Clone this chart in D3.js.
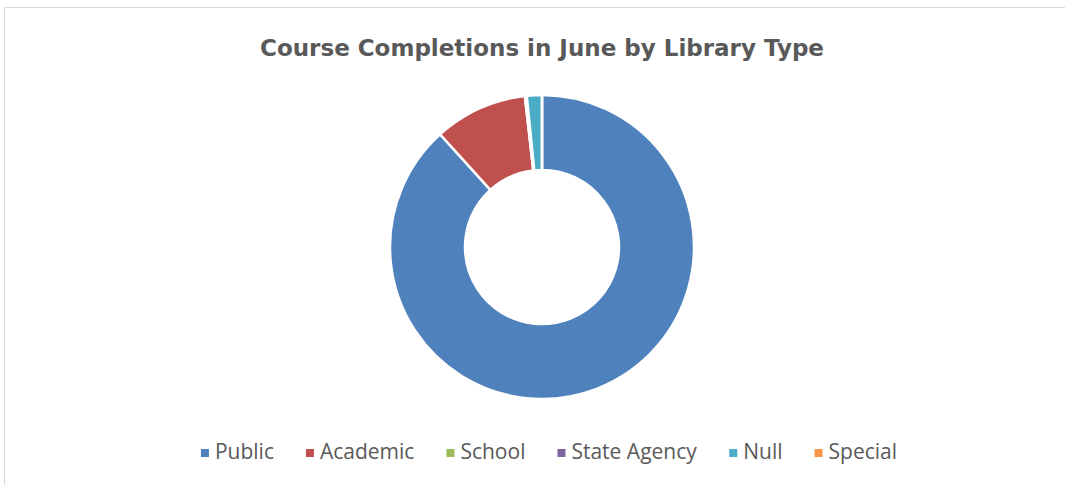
<!DOCTYPE html>
<html><head><meta charset="utf-8">
<script src="https://cdn.jsdelivr.net/npm/d3@7"></script>
<style>body{margin:0;background:#fff}svg{display:block}</style>
</head><body>
<svg id="c" width="1065" height="485"></svg>
<script>
const categories = ["Public", "Academic", "School", "State Agency", "Null", "Special"];
const values = [883, 99, 1, 1, 16, 0];
const colors = ["#4F81BD", "#C0504D", "#9BBB59", "#8064A2", "#4BACC6", "#F79646"];
const title = "Course Completions in June by Library Type";

const svg = d3.select("#c");
const W = 1065, H = 485;
svg.append("path").attr("d", `M4.5,${H} L4.5,7.5 L${W},7.5`)
  .attr("fill","none").attr("stroke","#d9d9d9").attr("stroke-width",1);

svg.append("text").attr("x", 542).attr("y", 56).attr("text-anchor","middle")
  .attr("font-family","'DejaVu Sans', sans-serif").attr("font-weight","bold")
  .attr("font-size", 23).attr("fill","#595959").text(title);

const cx = 542, cy = 247, R = 152, r = 77;
const pie = d3.pie().sort(null).value(d => d.v);
const arc = d3.arc().innerRadius(r).outerRadius(R);
const data = categories.map((c,i)=>({c, v: values[i], col: colors[i]}));
svg.append("g").attr("transform",`translate(${cx},${cy})`)
  .selectAll("path").data(pie(data)).join("path")
  .attr("d", arc).attr("fill", d=>d.data.col)
  .attr("stroke","#fff").attr("stroke-width", 2.5).attr("stroke-linejoin","round");

const lg = svg.append("g").attr("font-family","'Open Sans', sans-serif").attr("font-size",21).attr("fill","#595959");
const items = lg.selectAll("g").data(data).join("g");
items.append("rect").attr("width",8).attr("height",8).attr("y",-10).attr("fill",d=>d.col);
items.append("text").attr("x",14).attr("y",0).text(d=>d.c);
let x = 0; const gap = 32, xs = [];
items.each(function(){ xs.push(x); x += this.getBBox().width + gap; });
const total = x - gap;
items.attr("transform",(d,i)=>`translate(${549 - total/2 + xs[i]},459)`);
</script>
</body></html>
